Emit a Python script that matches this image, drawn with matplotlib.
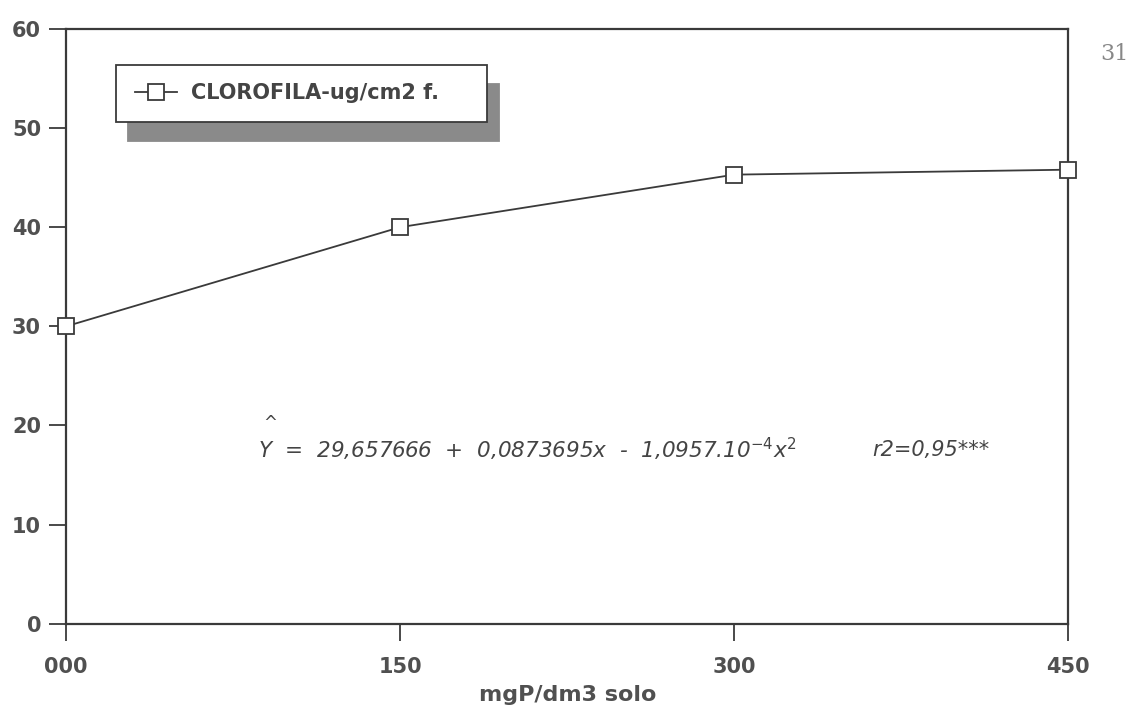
import matplotlib
matplotlib.use("Agg")
import matplotlib.pyplot as plt

# Data
doses = [0, 150, 300, 450]
clorofila = [30.0, 40.0, 45.3, 45.8]
xtick_labels = ["000", "150", "300", "450"]
yticks = [0, 10, 20, 30, 40, 50, 60]
series_label = "CLOROFILA-ug/cm2 f."
xlabel = "mgP/dm3 solo"
equation = "Y  =  29,657666  +  0,0873695x  -  1,0957.10$^{-4}$$x^{2}$"
r2_text = "r2=0,95***"

ink = "#3a3a3a"
txt = "#505050"

fig = plt.figure(figsize=(11.39, 7.22), dpi=100)
ax = fig.add_axes([0.058, 0.136, 0.880, 0.824])

ax.plot(doses, clorofila, color=ink, lw=1.3, marker="s", markersize=11,
        markerfacecolor="white", markeredgecolor=ink, markeredgewidth=1.3,
        label=series_label + "    ", clip_on=False, zorder=5)

ax.set_xlim(0, 450)
ax.set_ylim(0, 60)
ax.set_xticks(doses)
ax.set_xticklabels(xtick_labels)
ax.set_yticks(yticks)

for s in ax.spines.values():
    s.set_color(ink)
    s.set_linewidth(1.6)

ax.tick_params(axis="both", direction="out", length=12, width=1.3, color=ink,
               labelsize=15, labelcolor=txt)
ax.tick_params(axis="x", pad=12)
ax.tick_params(axis="y", pad=6)
for lab in ax.get_xticklabels() + ax.get_yticklabels():
    lab.set_fontweight("bold")

ax.set_xlabel(xlabel, fontsize=16, fontweight="bold", color=txt, labelpad=6)

leg = ax.legend(loc="upper left", bbox_to_anchor=(0.05, 0.94), frameon=True,
                fancybox=False, edgecolor=ink, framealpha=1,
                shadow={"ox": 8.6, "oy": -13.7, "color": "#8a8a8a", "alpha": 1},
                prop={"size": 15, "weight": "bold"}, handlelength=2.0,
                handletextpad=0.7, borderpad=0.9, borderaxespad=0,
                labelcolor="#444444")
leg.get_frame().set_linewidth(1.3)

ax.text(86, 16.75, equation, fontsize=15.5, style="italic", color="#444444",
        ha="left", va="baseline")
ax.text(88.5, 20.3, "^", fontsize=12, color="#444444", ha="left", va="center")
ax.text(362, 16.9, r2_text, fontsize=15, style="italic", color="#444444",
        ha="left", va="baseline")

fig.text(0.978, 0.925, "31", fontsize=16, family="DejaVu Serif", color="#888888",
         ha="center", va="center")

fig.savefig("out.png", dpi=100)
